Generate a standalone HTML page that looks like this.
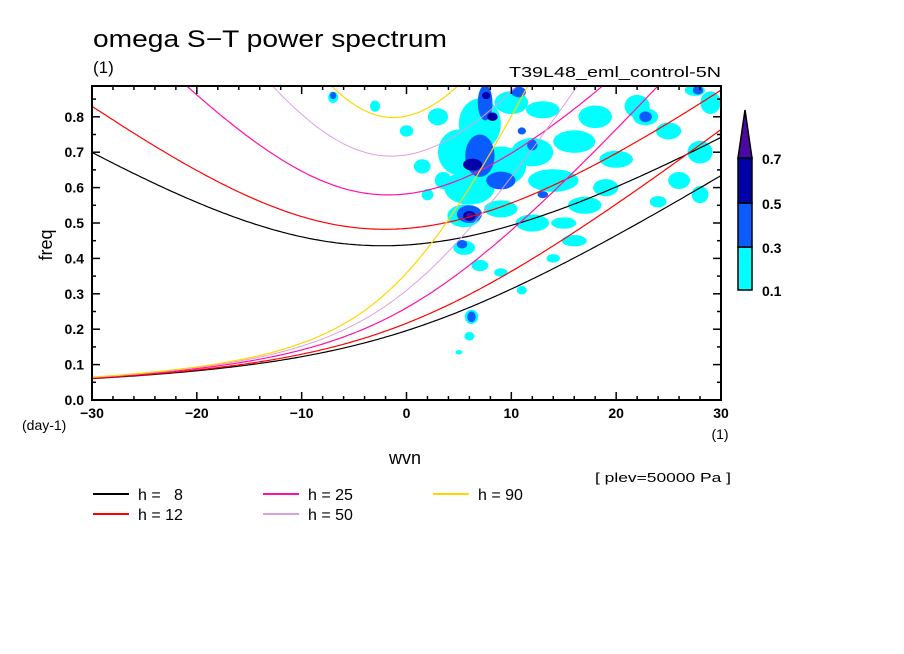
<!DOCTYPE html>
<html><head><meta charset="utf-8"><style>
html,body{margin:0;padding:0;background:#fff;}
svg{display:block;font-family:"Liberation Sans",sans-serif;}
</style></head><body>
<svg id="chart" width="904" height="654" viewBox="0 0 904 654" xmlns="http://www.w3.org/2000/svg">
<rect width="904" height="654" fill="#fff"/>
<text x="93" y="47" font-size="24" textLength="354" lengthAdjust="spacingAndGlyphs">omega S−T power spectrum</text>
<text x="93" y="73" font-size="17">(1)</text>
<text x="721" y="77" font-size="15" text-anchor="end" textLength="212" lengthAdjust="spacingAndGlyphs">T39L48_eml_control-5N</text>
<defs><clipPath id="pc"><rect x="92" y="86" width="629" height="314"/></clipPath></defs>
<g id="blobs" clip-path="url(#pc)"></g>
<g id="curves" clip-path="url(#pc)"></g>
<g id="axes"></g>
<text transform="translate(52,245) rotate(-90)" font-size="18" text-anchor="middle">freq</text>
<text x="22" y="430" font-size="14">(day-1)</text>
<text x="720" y="439" font-size="14" text-anchor="middle">(1)</text>
<text x="405" y="464" font-size="18" text-anchor="middle">wvn</text>
<text x="595" y="482" font-size="13" textLength="136" lengthAdjust="spacingAndGlyphs">[ plev=50000 Pa ]</text>
<g id="legend"></g>
<g id="cbar"></g>
</svg>
<script>
const kTicks=[-30,-20,-10,0,10,20,30];
const fTicks=[0.0,0.1,0.2,0.3,0.4,0.5,0.6,0.7,0.8];
const depths=[8,12,25,50,90];
const depthColors=["#000000","#ff0000","#ff10a8","#dda0dd","#ffd700"];
const levelLabels=["0.1","0.3","0.5","0.7"];
const levelColors=["#00ffff","#0a5cff","#0000a8","#4a0aa0"];
// blobs: k, freq, half-width in k, half-height in freq, level
const blobK=[5,7,6,9,12,14,16,18,20,13,10,22,25,26,28,29,3,1.5,0,-3,-7,5.5,9,12,16,14,17,5.5,7,9,11,6.2,6,5,3.5,2,24,28,22.8,27.5,19,15,
 7,7.5,9,6,10.7,5.3,6.2,12,13,11,22.8,27.8,-7,
 6.3,8.2,6,7.6,
 6];
const blobF=[0.70,0.78,0.60,0.66,0.70,0.62,0.73,0.80,0.68,0.82,0.84,0.83,0.76,0.62,0.70,0.84,0.80,0.66,0.76,0.83,0.855,0.52,0.54,0.50,0.45,0.40,0.55,0.43,0.38,0.36,0.31,0.235,0.18,0.135,0.62,0.58,0.56,0.58,0.80,0.875,0.60,0.50,
 0.69,0.84,0.62,0.525,0.87,0.44,0.235,0.72,0.58,0.76,0.80,0.875,0.86,
 0.665,0.80,0.52,0.86,
 0.522];
const blobDK=[2.5,2.5,3,3,2.5,3,2.5,2,2,2,2,1.5,1.5,1.3,1.5,1.2,1.2,1,0.8,0.6,0.6,2,2,2,1.5,0.8,2,1.3,1,0.8,0.6,0.8,0.6,0.4,1,0.7,1,1,1.5,1.2,1.5,1.5,
 1.4,0.7,1.4,1.2,0.7,0.5,0.4,0.5,0.5,0.4,0.6,0.5,0.3,
 0.9,0.5,0.6,0.4,
 0.3];
const blobDF=[0.08,0.09,0.06,0.07,0.05,0.04,0.04,0.04,0.03,0.03,0.04,0.04,0.03,0.03,0.04,0.04,0.03,0.025,0.02,0.02,0.02,0.04,0.03,0.03,0.02,0.015,0.03,0.025,0.02,0.015,0.015,0.025,0.015,0.008,0.03,0.02,0.02,0.03,0.03,0.02,0.03,0.02,
 0.06,0.05,0.025,0.025,0.015,0.012,0.015,0.015,0.01,0.01,0.015,0.012,0.01,
 0.017,0.012,0.014,0.01,
 0.007];
const blobLevel=[0,0,0,0,0,0,0,0,0,0,0,0,0,0,0,0,0,0,0,0,0,0,0,0,0,0,0,0,0,0,0,0,0,0,0,0,0,0,0,0,0,0,
 1,1,1,1,1,1,1,1,1,1,1,1,1,
 2,2,2,2,
 3];

const X0=92,X1=721,Y0=400,Y1=86;
const xS=k=>X0+(k+30)/60*(X1-X0);
const yS=f=>Y0-f/0.1*35.4;
const NS="http://www.w3.org/2000/svg";
function mk(t,a,p){const e=document.createElementNS(NS,t);for(const q in a)e.setAttribute(q,a[q]);(p||document.getElementById('chart')).appendChild(e);return e;}

// blobs
const gb=document.getElementById('blobs');
for(let i=0;i<blobK.length;i++){
 const s=blobLevel[i]===0?0.8:1;
 const e=mk('ellipse',{cx:xS(blobK[i]),cy:yS(blobF[i]),rx:s*blobDK[i]/60*(X1-X0),ry:s*blobDF[i]/0.1*35.4,fill:levelColors[blobLevel[i]]},gb);
 
 
}

// dispersion curves
const g=9.81,beta=2.29e-11,a=6.371e6,cpd=86400/(2*Math.PI);
const gc=document.getElementById('curves');
depths.forEach((h,j)=>{
 const c=Math.sqrt(g*h);
 let p1="",p2="";
 for(let kk=-30;kk<=30.001;kk+=0.25){
  const k=kk/a;
  const w0=k*c/2+Math.sqrt(k*k*c*c/4+beta*c);
  let w=Math.sqrt(5*beta*c+c*c*k*k);
  for(let it=0;it<30;it++){w=Math.sqrt(Math.max(5*beta*c+c*c*k*k+beta*c*c*k/w,1e-14));}
  p1+=(p1?"L":"M")+xS(kk).toFixed(1)+","+yS(w0*cpd).toFixed(1);
  p2+=(p2?"L":"M")+xS(kk).toFixed(1)+","+yS(w*cpd).toFixed(1);
 }
 const wd=j==3?1:1.2;
 const e1=mk('path',{d:p1,fill:"none",stroke:depthColors[j],"stroke-width":wd},gc);
 
 
 const e2=mk('path',{d:p2,fill:"none",stroke:depthColors[j],"stroke-width":wd},gc);
 
 
});

// axes
const ga=document.getElementById('axes');
const fr=mk('rect',{x:X0,y:Y1,width:X1-X0,height:Y0-Y1,fill:"none",stroke:"#000","stroke-width":2},ga);


for(let k=-30;k<=30;k+=2){
 const L=(k%10===0)?8:4;
 mk('line',{x1:xS(k),x2:xS(k),y1:Y0,y2:Y0-L,stroke:"#000","stroke-width":1.5},ga);
 mk('line',{x1:xS(k),x2:xS(k),y1:Y1,y2:Y1+L,stroke:"#000","stroke-width":1.5},ga);
}
for(let i=0;i<=17;i++){
 const f=i*0.05,L=(i%2===0)?8:4;
 mk('line',{x1:X0,x2:X0+L,y1:yS(f),y2:yS(f),stroke:"#000","stroke-width":1.5},ga);
 mk('line',{x1:X1,x2:X1-L,y1:yS(f),y2:yS(f),stroke:"#000","stroke-width":1.5},ga);
}
kTicks.forEach(k=>{
 const t=mk('text',{x:xS(k),y:418,"font-size":14,"text-anchor":"middle","font-weight":"bold"},ga);
 t.textContent=(k<0?"−":"")+Math.abs(k);
 
 
});
fTicks.forEach(f=>{
 const t=mk('text',{x:84,y:yS(f)+5,"font-size":14,"text-anchor":"end","font-weight":"bold"},ga);
 t.textContent=f.toFixed(1);
 
 
});

// legend
const gl=document.getElementById('legend');
const lx=[93,93,263,263,433],ly=[494,514,494,514,494];
depths.forEach((h,j)=>{
 const px=lx[j],py=ly[j];
 const ln=mk('line',{x1:px,x2:px+36,y1:py,y2:py,stroke:depthColors[j],"stroke-width":2},gl);
 
 
 const t=mk('text',{x:px+45,y:py+6,"font-size":16},gl);
 t.textContent="h = "+(h<10?"\u2007":"")+h;
 
 
});

// colorbar
const gk=document.getElementById('cbar');
const cbx=738,cbw=14,cbY=[290,247,203,158];
for(let i=0;i<3;i++){
 const r=mk('rect',{x:cbx,y:cbY[i+1],width:cbw,height:cbY[i]-cbY[i+1],fill:levelColors[i],stroke:"#000","stroke-width":1.5},gk);
 
 
}
const tri=mk('polygon',{points:cbx+","+cbY[3]+" "+(cbx+cbw)+","+cbY[3]+" "+(cbx+cbw/2)+",110",fill:levelColors[3],stroke:"#000","stroke-width":1.5},gk);


levelLabels.forEach((s,i)=>{
 const t=mk('text',{x:762,y:cbY[i]+6,"font-size":14,"font-weight":"bold"},gk);
 t.textContent=s;
 
 
});
</script>
</body></html>
